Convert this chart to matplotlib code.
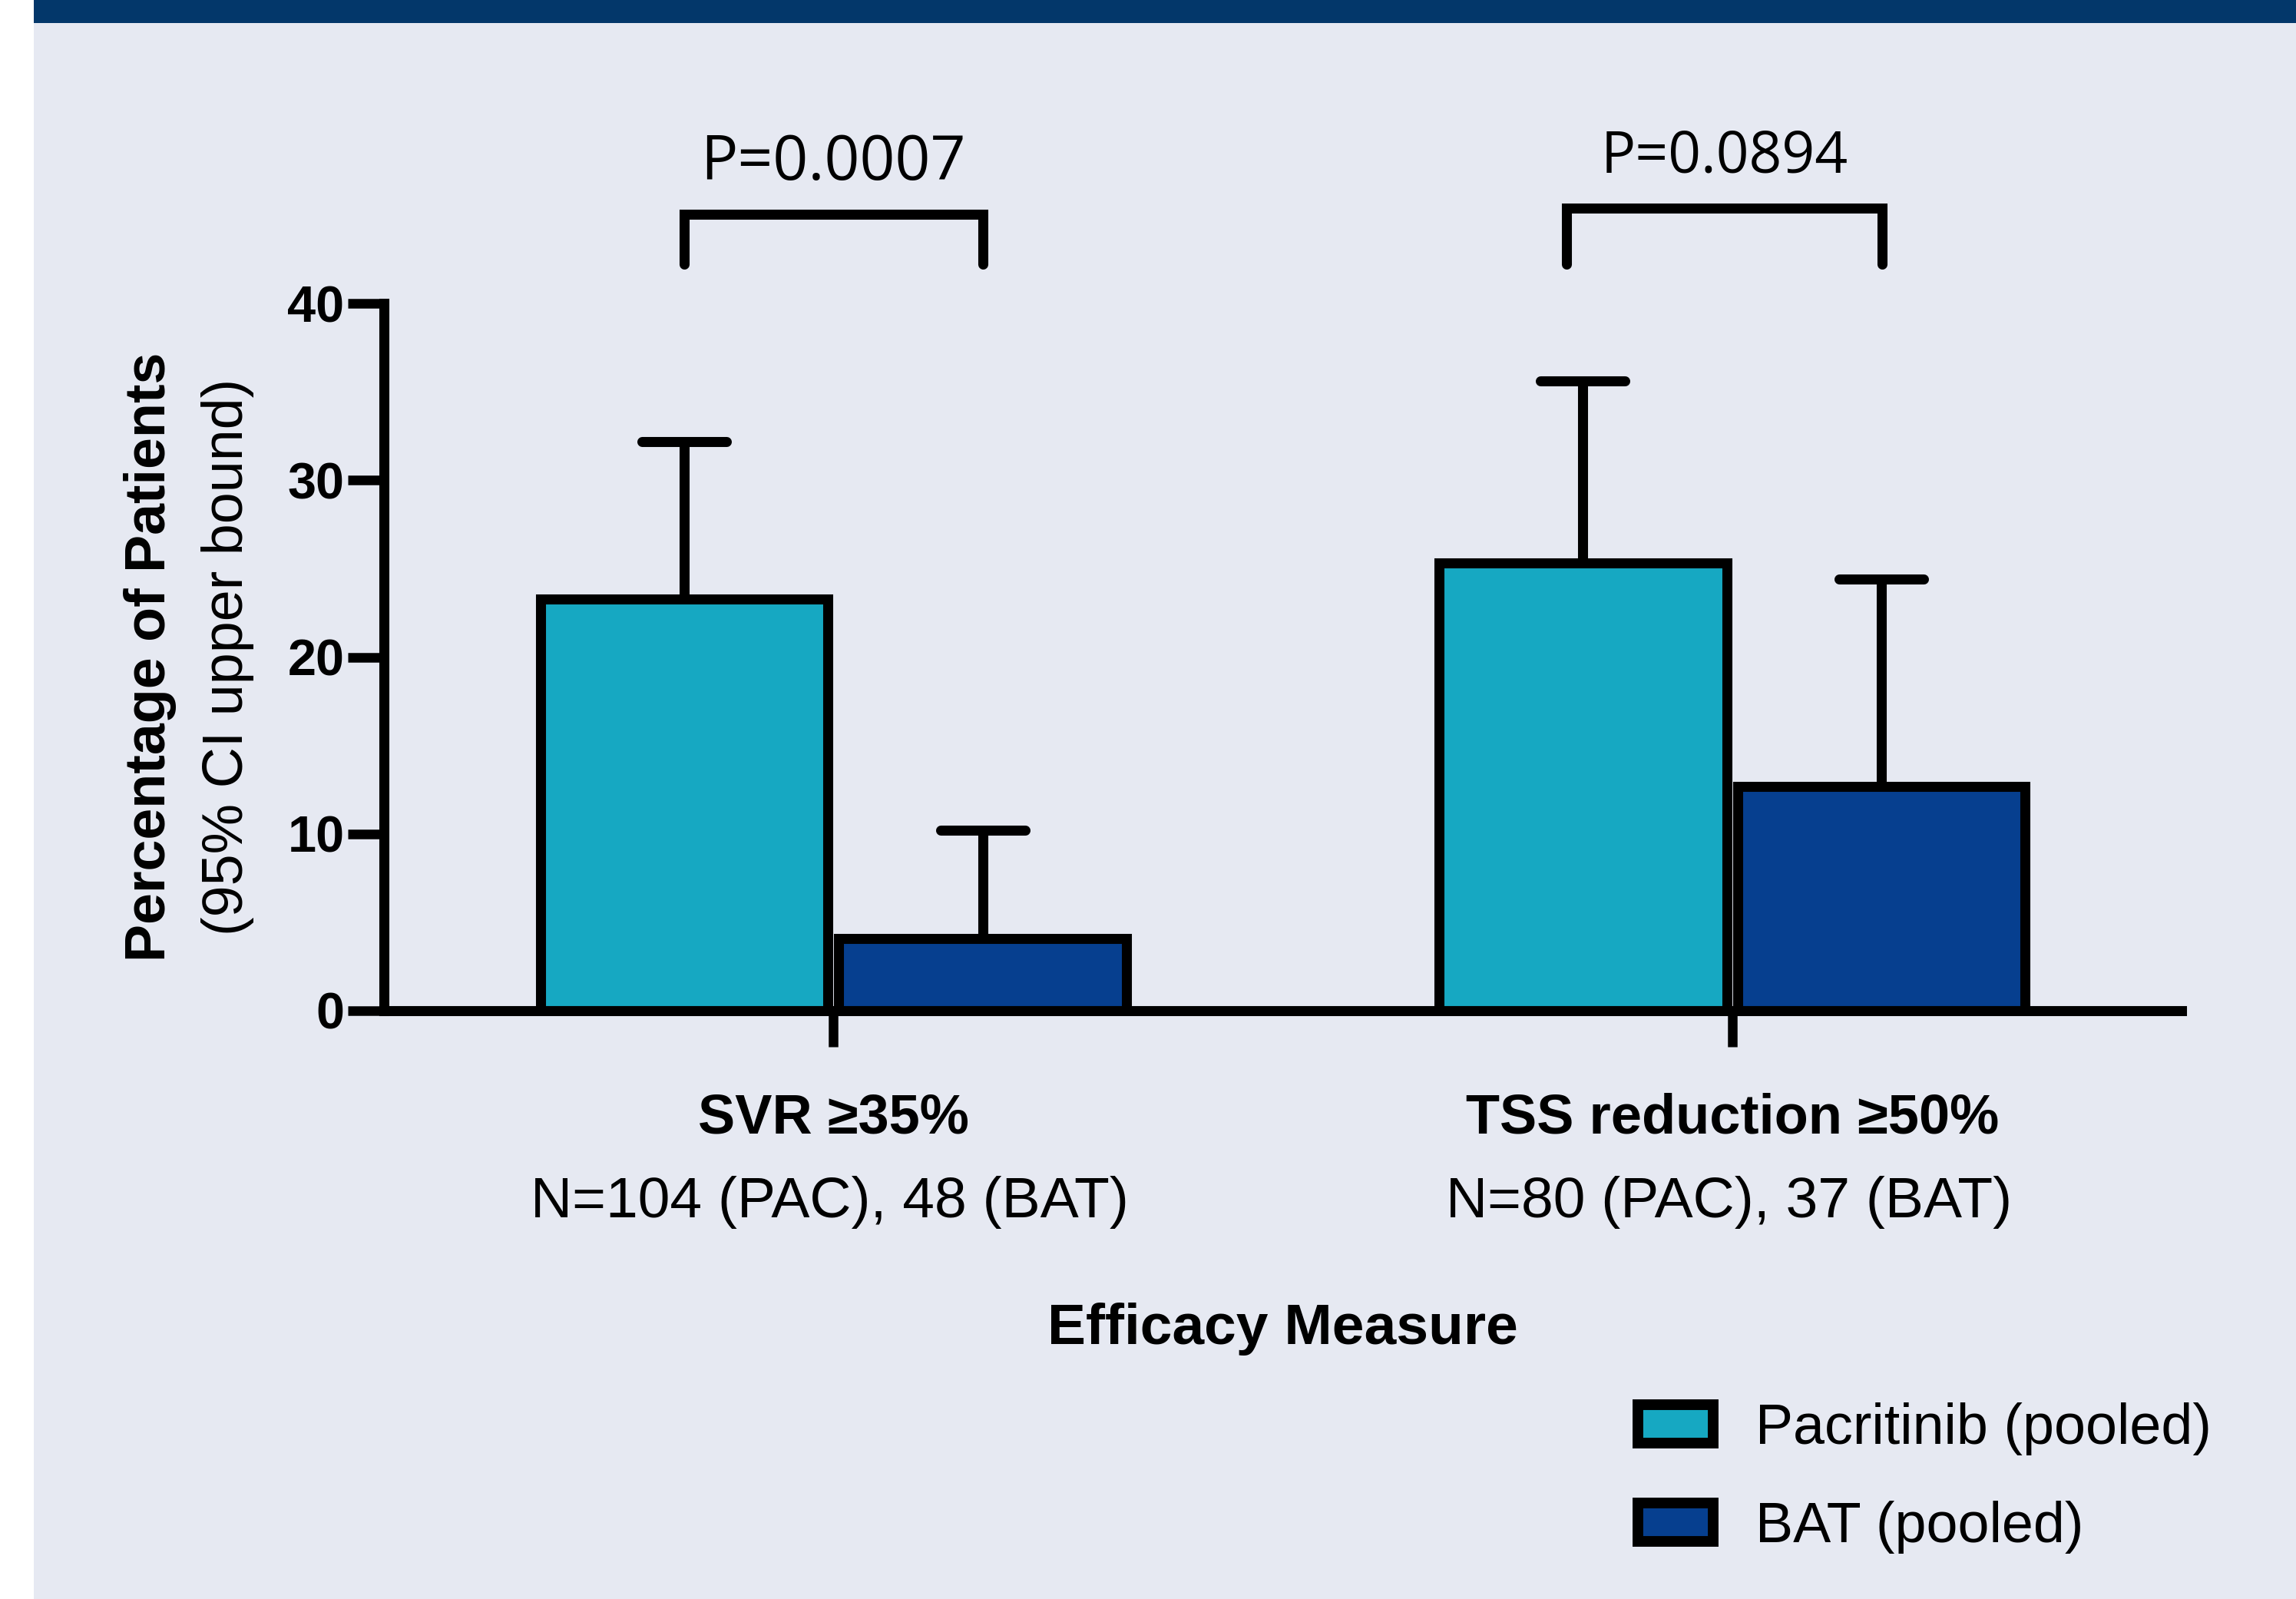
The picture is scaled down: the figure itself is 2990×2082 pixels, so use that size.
import matplotlib
matplotlib.use('Agg')
import matplotlib.pyplot as plt
from matplotlib.patches import Rectangle, Patch
import numpy as np

# ---------------- data ----------------
categories = ["SVR \u226535%", "TSS reduction \u226550%"]
n_labels = ["N=104 (PAC), 48 (BAT)", "N=80 (PAC), 37 (BAT)"]
series_names = ["Pacritinib (pooled)", "BAT (pooled)"]
pac_values = [23.3, 25.3]
bat_values = [4.1, 12.7]
pac_ci_upper = [32.2, 35.6]
bat_ci_upper = [10.2, 24.4]
p_labels = ["P=0.0007", "P=0.0894"]
bracket_left = [-0.166, 0.816]
bracket_right = [0.166, 1.167]
bracket_top = [45.05, 45.4]
bracket_bottom = [42.2, 42.2]
p_label_y = [47.0, 47.4]
y_ticks = [0, 10, 20, 30, 40]

# ---------------- style ----------------
TEAL = '#16A8C2'
NAVY = '#063F8F'
BG = '#E6E9F2'
BANNER = '#03376A'
FONT = ['Liberation Sans', 'DejaVu Sans']
PFONT = ['Open Sans', 'DejaVu Sans']
P_SIZES = [29, 27]
plt.rcParams['font.family'] = FONT

W, H = 2990, 2082
DPI = 200
fig = plt.figure(figsize=(W / DPI, H / DPI), dpi=DPI)
fig.patch.set_facecolor('white')
fig.add_artist(Rectangle((44 / W, 0), 1 - 44 / W, 1, transform=fig.transFigure,
                         facecolor=BG, edgecolor='none', zorder=-10))
fig.add_artist(Rectangle((44 / W, 1 - 30 / H), 1 - 44 / W, 30 / H, transform=fig.transFigure,
                         facecolor=BANNER, edgecolor='none', zorder=-9))

ax = fig.add_axes([500 / W, 1 - 1316 / H, (2841 - 500) / W, (1316 - 395) / H])
ax.set_facecolor('none')
ax.set_xlim(-0.5, 1.5)
ax.set_ylim(0, 40)

LW = 4.7
x = np.arange(len(categories))
w = 0.32
off = 0.166

b1 = ax.bar(x - off, pac_values, w, color=TEAL, edgecolor='black', linewidth=LW,
            zorder=3, label=series_names[0])
b2 = ax.bar(x + off, bat_values, w, color=NAVY, edgecolor='black', linewidth=LW,
            zorder=3, label=series_names[1])
for p in list(b1) + list(b2):
    p.set_joinstyle('miter')

# error bars (upper only)
cap = 0.047
for xs, vals, ups in [(x - off, pac_values, pac_ci_upper), (x + off, bat_values, bat_ci_upper)]:
    vl = ax.vlines(xs, vals, ups, colors='black', linewidth=LW, zorder=2)
    vl.set_capstyle('butt')
    hl = ax.hlines(ups, xs - cap, xs + cap, colors='black', linewidth=LW, zorder=2)
    hl.set_capstyle('round')

# significance brackets
for xl, xr, yt, yb, lab, ly, fs in zip(bracket_left, bracket_right, bracket_top,
                                       bracket_bottom, p_labels, p_label_y, P_SIZES):
    ax.plot([xl, xl, xr, xr], [yb, yt, yt, yb], color='black', linewidth=LW,
            solid_capstyle='round', solid_joinstyle='miter', clip_on=False, zorder=4)
    ax.text((xl + xr) / 2, ly, lab, ha='center', va='baseline', fontsize=fs,
            family=PFONT, clip_on=False)

# spines and ticks
for s in ['top', 'right']:
    ax.spines[s].set_visible(False)
for s in ['left', 'bottom']:
    ax.spines[s].set_linewidth(LW)
    ax.spines[s].set_zorder(5)
ax.set_yticks(y_ticks)
ax.tick_params(axis='y', length=17, width=4.5, pad=1.5, labelsize=24, direction='out')
for lab in ax.get_yticklabels():
    lab.set_fontweight('bold')
ax.set_xticks(x)
ax.set_xticklabels([])
ax.tick_params(axis='x', length=17, width=4.5, direction='out')

# category labels
tr = ax.get_xaxis_transform()
for xi, cat, nl in zip(x, categories, n_labels):
    ax.text(xi, -0.153, cat, transform=tr, ha='center', va='center',
            fontsize=26, fontweight='bold')
    ax.text(xi - 0.004, -0.271, nl, transform=tr, ha='center', va='center', fontsize=27)
ax.text(0.5, -0.450, "Efficacy Measure", transform=ax.transAxes, ha='center',
        va='center', fontsize=27, fontweight='bold')

# y label (two lines, different weights)
ax.text(-0.1299, 0.5, "Percentage of Patients", transform=ax.transAxes, rotation=90,
        ha='center', va='center', fontsize=26.5, fontweight='bold')
ax.text(-0.0871, 0.5, "(95% CI upper bound)", transform=ax.transAxes, rotation=90,
        ha='center', va='center', fontsize=26.5)

# legend
handles = [Patch(facecolor=TEAL, edgecolor='black', linewidth=5.0, joinstyle='miter'),
           Patch(facecolor=NAVY, edgecolor='black', linewidth=5.0, joinstyle='miter')]
fig.legend(handles, series_names, loc='upper left',
           bbox_to_anchor=(2133 / W, 1 - 1826 / H), frameon=False, fontsize=26.5,
           handlelength=1.33, handleheight=0.68, handletextpad=0.75,
           labelspacing=0.8, borderpad=0, borderaxespad=0)

fig.savefig('out.png', dpi=DPI, facecolor=fig.get_facecolor())
